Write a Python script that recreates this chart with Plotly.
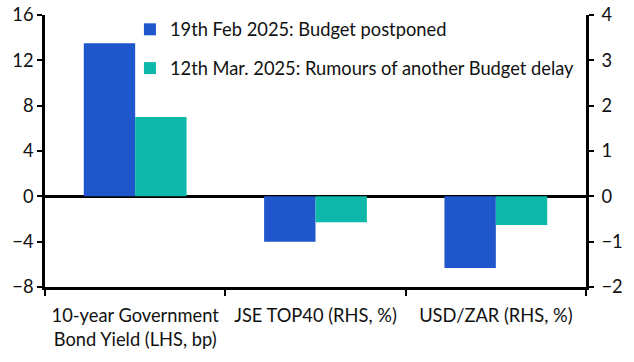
import plotly.graph_objects as go

categories = ["10-year Government<br>Bond Yield (LHS, bp)", "JSE TOP40 (RHS, %)", "USD/ZAR (RHS, %)"]
series_names = ["19th Feb 2025: Budget postponed", "12th Mar. 2025: Rumours of another Budget delay"]
feb_values = [13.5, -1.0, -1.58]
mar_values = [7.0, -0.57, -0.63]
axis_side = ["LHS", "RHS", "RHS"]

colors = ["#2056CB", "#0DB8AA"]
font = "Lato, Open Sans, sans-serif"
fs = 18.3

fig = go.Figure()
for i, (name, vals) in enumerate(zip(series_names, [feb_values, mar_values])):
    lhs = [v if s == "LHS" else None for v, s in zip(vals, axis_side)]
    rhs = [v if s == "RHS" else None for v, s in zip(vals, axis_side)]
    fig.add_trace(go.Bar(x=categories, y=lhs, name=name, marker_color=colors[i],
                         marker_line_width=0,
                         offsetgroup=str(i), yaxis="y", legendgroup=str(i)))
    fig.add_trace(go.Bar(x=categories, y=rhs, name=name, marker_color=colors[i],
                         marker_line_width=0,
                         offsetgroup=str(i), yaxis="y2", legendgroup=str(i), showlegend=False))

fig.update_layout(
    width=634, height=362,
    margin=dict(l=45, r=48, t=15, b=75, autoexpand=False),
    plot_bgcolor="white", paper_bgcolor="white",
    barmode="group", bargap=0.43, bargroupgap=0,
    font=dict(family=font, size=fs, color="#111"),
    showlegend=True,
    legend=dict(x=0.157, y=1.015, xanchor="left", yanchor="top", bgcolor="rgba(0,0,0,0)",
                font=dict(size=fs), tracegroupgap=12, itemwidth=30),
    xaxis=dict(showline=True, linecolor="black", linewidth=2.5, ticks="outside",
               tickson="boundaries", ticklen=6, tickwidth=2, tickcolor="black",
               showgrid=False, tickfont=dict(size=fs), automargin=False,
               ticklabelstandoff=10),
    yaxis=dict(range=[-8, 16], dtick=4, showline=True, linecolor="black", linewidth=2.5,
               ticks="outside", ticklen=5, tickwidth=2, tickcolor="black", showgrid=False,
               zeroline=True, zerolinecolor="black", zerolinewidth=2.5, tickfont=dict(size=fs),
               automargin=False),
    yaxis2=dict(range=[-2, 4], dtick=1, overlaying="y", side="right", showline=True,
                linecolor="black", linewidth=2.5, ticks="outside", ticklen=5, tickwidth=2,
                tickcolor="black", showgrid=False, zeroline=False, tickfont=dict(size=fs),
                automargin=False, ticklabelstandoff=4),
)

fig.write_html("out.html", config={"displayModeBar": False},
               post_script="document.body.style.margin='0px';")
